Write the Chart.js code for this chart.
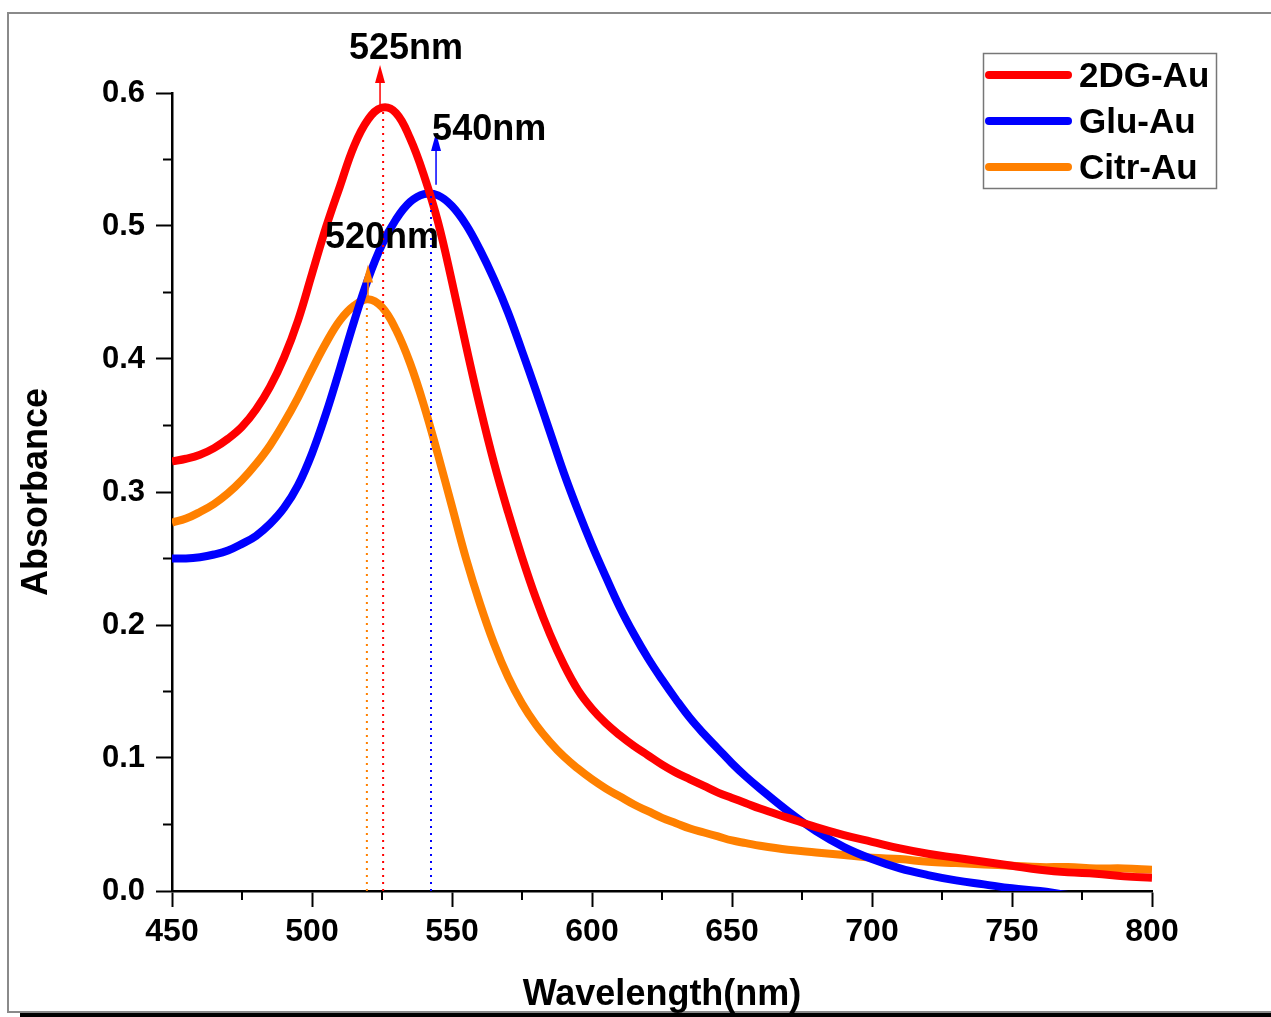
<!DOCTYPE html>
<html lang="en">
<head>
<meta charset="UTF-8">
<title>UV-Vis Absorbance</title>
<script src="https://cdn.jsdelivr.net/npm/chart.js"></script>
<style>
    body { margin: 0; background: #fff; }
    #wrap { width: 1271px; height: 1017px; position: relative; }
</style>
</head>
<body>
<div id="wrap"><canvas id="uvChart"></canvas></div>
<script>
// --- data ---
const wavelengths = [450, 455, 460, 465, 470, 475, 480, 485, 490, 495, 500, 505, 510, 515, 520, 525, 530, 535, 540, 545,
    550, 555, 560, 565, 570, 575, 580, 585, 590, 595, 600, 605, 610, 615, 620, 625, 630, 635, 640, 645,
    650, 655, 660, 670, 680, 690, 700, 710, 720, 730, 740, 750, 760, 770, 780, 790, 800];

const dgAu = [0.323, 0.325, 0.328, 0.333, 0.340, 0.349, 0.362, 0.379, 0.401, 0.429, 0.464, 0.499, 0.530, 0.560, 0.580, 0.589, 0.585, 0.566, 0.538, 0.503,
    0.458, 0.410, 0.364, 0.322, 0.285, 0.251, 0.220, 0.193, 0.170, 0.151, 0.137, 0.126, 0.117, 0.109, 0.102, 0.095, 0.089, 0.084, 0.079, 0.074,
    0.070, 0.066, 0.062, 0.055, 0.048, 0.042, 0.037, 0.032, 0.028, 0.025, 0.022, 0.019, 0.016, 0.014, 0.013, 0.011, 0.010];

const gluAu = [0.250, 0.250, 0.251, 0.253, 0.256, 0.261, 0.267, 0.276, 0.288, 0.305, 0.329, 0.359, 0.393, 0.428, 0.460, 0.486, 0.505, 0.518, 0.524, 0.523,
    0.515, 0.501, 0.482, 0.460, 0.435, 0.406, 0.376, 0.345, 0.314, 0.286, 0.260, 0.236, 0.213, 0.193, 0.175, 0.159, 0.144, 0.130, 0.118, 0.107,
    0.096, 0.086, 0.077, 0.060, 0.045, 0.033, 0.024, 0.017, 0.012, 0.008, 0.005, 0.002, 0.000, -0.003, -0.005, -0.007, -0.009];

const citrAu = [0.277, 0.280, 0.285, 0.291, 0.299, 0.309, 0.321, 0.335, 0.352, 0.371, 0.392, 0.412, 0.429, 0.440, 0.445, 0.439, 0.422, 0.397, 0.365, 0.328,
    0.289, 0.250, 0.216, 0.186, 0.161, 0.141, 0.125, 0.112, 0.101, 0.092, 0.084, 0.077, 0.071, 0.065, 0.060, 0.055, 0.051, 0.047, 0.044, 0.041,
    0.038, 0.036, 0.034, 0.031, 0.029, 0.027, 0.025, 0.024, 0.022, 0.021, 0.020, 0.019, 0.018, 0.018, 0.017, 0.017, 0.016];

const seriesNames = ['2DG-Au', 'Glu-Au', 'Citr-Au'];
const seriesColors = ['#ff0000', '#0000ff', '#ff8000'];

// peak markers (nm / absorbance)
const peakNm = [525.4, 542.5, 519.6];
const peakAbs = [0.589, 0.524, 0.445];
const peakLabels = ['525nm', '540nm', '520nm'];
const arrowNm = [524.3, 544.3, 520.0];
const arrowBase = [0.591, 0.531, 0.444];
const arrowTip = [0.621, 0.570, 0.471];
const labelNm = [513.2, 542.9, 504.6];
const labelAbs = [0.633, 0.572, 0.491];

const xTicks = [450, 500, 550, 600, 650, 700, 750, 800];
const yTicks = [0.0, 0.1, 0.2, 0.3, 0.4, 0.5, 0.6];

const FONT = '"Liberation Sans", Arial, Helvetica, sans-serif';

const toPoints = (vals) => wavelengths.map((w, i) => ({ x: w, y: vals[i] }));

// frame, minor ticks, peak markers and legend
const extras = {
    id: 'extras',
    beforeDraw(chart) {
        const c = chart.ctx;
        c.save();
        c.fillStyle = '#fff';
        c.fillRect(0, 0, chart.width, chart.height);
        c.strokeStyle = '#8a8a8a';
        c.lineWidth = 2;
        c.beginPath();
        c.moveTo(chart.width, 13);
        c.lineTo(8, 13);
        c.lineTo(8, 1012);
        c.lineTo(chart.width, 1012);
        c.stroke();
        c.fillStyle = '#000';
        c.fillRect(20, 1013, chart.width - 20, 4);
        c.restore();
    },
    afterDatasetsDraw(chart) {
        const c = chart.ctx;
        const xs = chart.scales.x, ys = chart.scales.y;
        c.save();
        // minor ticks
        c.strokeStyle = '#000';
        c.lineWidth = 2;
        const bottom = ys.getPixelForValue(0), left = xs.getPixelForValue(450);
        for (let w = 475; w < 800; w += 50) {
            const px = xs.getPixelForValue(w);
            c.beginPath(); c.moveTo(px, bottom); c.lineTo(px, bottom + 9); c.stroke();
        }
        for (let a = 0.05; a < 0.6; a += 0.1) {
            const py = ys.getPixelForValue(a);
            c.beginPath(); c.moveTo(left, py); c.lineTo(left - 9, py); c.stroke();
        }
        // dotted drop lines
        peakNm.forEach((nm, i) => {
            const px = xs.getPixelForValue(nm);
            c.strokeStyle = seriesColors[i];
            c.lineWidth = 2;
            c.setLineDash([2, 5]);
            c.beginPath();
            c.moveTo(px, ys.getPixelForValue(0));
            c.lineTo(px, ys.getPixelForValue(peakAbs[i]));
            c.stroke();
        });
        c.setLineDash([]);
        // arrows
        arrowNm.forEach((nm, i) => {
            const px = xs.getPixelForValue(nm);
            const y0 = ys.getPixelForValue(arrowBase[i]);
            const y1 = ys.getPixelForValue(arrowTip[i]);
            c.strokeStyle = seriesColors[i];
            c.fillStyle = seriesColors[i];
            c.lineWidth = 1.5;
            c.beginPath(); c.moveTo(px, y0); c.lineTo(px, y1 + 10); c.stroke();
            c.beginPath();
            c.moveTo(px, y1);
            c.lineTo(px - 5, y1 + 18);
            c.lineTo(px + 5, y1 + 18);
            c.closePath();
            c.fill();
        });
        // labels
        c.fillStyle = '#000';
        c.font = 'bold 36px ' + FONT;
        c.textAlign = 'left';
        c.textBaseline = 'middle';
        peakLabels.forEach((t, i) => {
            c.fillText(t, xs.getPixelForValue(labelNm[i]), ys.getPixelForValue(labelAbs[i]));
        });
        // legend
        c.strokeStyle = '#777';
        c.lineWidth = 1.5;
        c.strokeRect(983.5, 53.5, 233, 135);
        c.font = 'bold 35px ' + FONT;
        seriesNames.forEach((name, i) => {
            const ly = 75 + i * 46;
            c.strokeStyle = seriesColors[i];
            c.lineWidth = 8;
            c.lineCap = 'round';
            c.beginPath(); c.moveTo(989, ly); c.lineTo(1068, ly); c.stroke();
            c.fillStyle = '#000';
            c.fillText(name, 1079, ly + 2);
        });
        c.restore();
    }
};

const ctx = document.getElementById('uvChart').getContext('2d');
new Chart(ctx, {
    type: 'line',
    data: {
        datasets: [0, 1, 2].map(i => ({
            label: seriesNames[i],
            data: toPoints([dgAu, gluAu, citrAu][i]),
            borderColor: seriesColors[i],
            borderWidth: 8,
            pointRadius: 0,
            tension: 0.4,
            fill: false,
            clip: 0
        }))
    },
    options: {
        responsive: true,
        maintainAspectRatio: false,
        animation: false,
        layout: { padding: { top: 93, right: 119, left: 0, bottom: 0 } },
        plugins: { legend: { display: false }, tooltip: { enabled: false } },
        scales: {
            x: {
                type: 'linear',
                min: 450, max: 800,
                afterFit: (s) => { s.height = 126; },
                afterBuildTicks: (s) => { s.ticks = xTicks.map(v => ({ value: v })); },
                border: { color: '#000', width: 2.5 },
                grid: { drawOnChartArea: false, drawTicks: true, tickLength: 16, tickWidth: 2, tickColor: '#000' },
                ticks: { color: '#000', padding: 6, font: { family: FONT, size: 32, weight: 'bold' }, maxRotation: 0 },
                title: { display: true, text: 'Wavelength(nm)', color: '#000', padding: { top: 3, bottom: 0 },
                    font: { family: FONT, size: 36, weight: 'bold' } }
            },
            y: {
                min: 0, max: 0.6,
                afterFit: (s) => { s.width = 172; },
                afterBuildTicks: (s) => { s.ticks = yTicks.map(v => ({ value: v })); },
                border: { color: '#000', width: 2.5 },
                grid: { drawOnChartArea: false, drawTicks: true, tickLength: 16, tickWidth: 2, tickColor: '#000' },
                ticks: { color: '#000', padding: 11, font: { family: FONT, size: 31, weight: 'bold' },
                    callback: (v) => v.toFixed(1) },
                title: { display: true, text: 'Absorbance', color: '#000', padding: { top: 15, bottom: 0 },
                    font: { family: FONT, size: 36, weight: 'bold' } }
            }
        }
    },
    plugins: [extras]
});
</script>
</body>
</html>
